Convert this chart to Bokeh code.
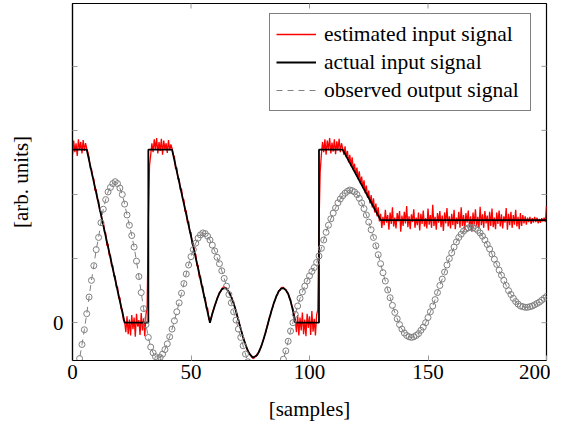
from bokeh.plotting import figure
from bokeh.models import Range1d, FixedTicker, Legend, LegendItem
from bokeh.embed import file_html
from bokeh.resources import INLINE

# ---------------- data ----------------
# estimated input signal, sampled every half sample from 0 to 200
est_input = [
    # 0 - 6.5
    2.62, 2.84, 2.66, 2.80, 2.60, 2.86, 2.70, 2.82, 2.64, 2.85, 2.68, 2.80, 2.72, 2.66,
    # 7 - 21.5
    2.58, 2.41, 2.40, 2.27, 2.24, 2.06, 2.08, 1.93, 1.90, 1.74, 1.74, 1.55, 1.58, 1.41, 1.40,
    1.20, 1.23, 1.05, 1.06, 0.88, 0.89, 0.72, 0.73, 0.55, 0.56, 0.38, 0.39, 0.22, 0.21, 0.04,
    # 22 - 33.5
    0.02, -0.15, 0.10, -0.18, 0.05, -0.20, 0.12, -0.10, 0.08, -0.22, 0.14, -0.06, 0.04, -0.19,
    0.15, -0.12, 0.07, -0.21, 0.13, 0.25, 1.60, 2.45, 2.62, 2.80,
    # 34 - 42.5
    2.66, 2.86, 2.70, 2.88, 2.64, 2.82, 2.68, 2.87, 2.62, 2.84, 2.70, 2.80, 2.65, 2.85, 2.69,
    2.78, 2.72, 2.62,
    # 43 - 57.5
    2.59, 2.40, 2.42, 2.24, 2.25, 2.07, 2.09, 1.91, 1.92, 1.73, 1.75, 1.56, 1.58, 1.40, 1.41,
    1.22, 1.24, 1.06, 1.07, 0.89, 0.90, 0.71, 0.73, 0.56, 0.57, 0.39, 0.40, 0.22, 0.23, 0.06,
    # 58 - 93.5
    0.03, 0.08, 0.15, 0.21, 0.27, 0.31, 0.38, 0.42, 0.47, 0.49,
    0.53, 0.55, 0.56, 0.54, 0.54, 0.50, 0.49, 0.44, 0.41, 0.35,
    0.31, 0.24, 0.19, 0.10, 0.05, -0.03, -0.09, -0.17, -0.22, -0.29,
    -0.33, -0.40, -0.43, -0.48, -0.50, -0.53, -0.55, -0.56, -0.52, -0.53,
    -0.48, -0.47, -0.41, -0.39, -0.32, -0.28, -0.20, -0.16, -0.07, -0.02,
    0.07, 0.11, 0.20, 0.24, 0.32, 0.35, 0.42, 0.44, 0.50, 0.50,
    0.54, 0.55, 0.55, 0.52, 0.52, 0.47, 0.46, 0.39, 0.36, 0.27,
    0.22, 0.12,
    # 94 - 103.5
    0.04, -0.15, 0.12, -0.20, 0.08, -0.12, 0.16, -0.18, 0.05, -0.21, 0.14, -0.08, 0.10, -0.19,
    0.18, -0.14, 0.06, -0.20, 0.12, 0.20,
    # 104 - 105.5
    1.50, 2.35, 2.62, 2.82,
    # 106 - 114.5
    2.66, 2.86, 2.62, 2.84, 2.70, 2.88, 2.64, 2.81, 2.67, 2.86, 2.63, 2.83, 2.69, 2.87, 2.66,
    2.80, 2.72, 2.62,
    # 115 - 129.5
    2.75, 2.58, 2.68, 2.50, 2.62, 2.44, 2.58, 2.38, 2.48, 2.31, 2.42, 2.24, 2.36, 2.17, 2.28,
    2.10, 2.22, 2.02, 2.14, 1.95, 2.06, 1.86, 1.99, 1.80, 1.94, 1.72, 1.86, 1.66, 1.80, 1.58,
    # 130 - 199.5
    1.70, 1.48, 1.65, 1.52, 1.76, 1.56, 1.68, 1.45, 1.72, 1.54,
    1.80, 1.50, 1.64, 1.47, 1.71, 1.58, 1.74, 1.42, 1.67, 1.51,
    1.73, 1.55, 1.82, 1.49, 1.66, 1.46, 1.69, 1.57, 1.77, 1.48,
    1.64, 1.52, 1.72, 1.44, 1.70, 1.54, 1.75, 1.50, 1.63, 1.47,
    1.78, 1.53, 1.68, 1.48, 1.84, 1.51, 1.65, 1.45, 1.71, 1.56,
    1.74, 1.49, 1.67, 1.43, 1.72, 1.55, 1.79, 1.50, 1.66, 1.47,
    1.70, 1.52, 1.76, 1.46, 1.64, 1.54, 1.73, 1.48, 1.80, 1.51,
    1.68, 1.45, 1.71, 1.56, 1.75, 1.49, 1.66, 1.42, 1.72, 1.53,
    1.77, 1.50, 1.65, 1.47, 1.81, 1.52, 1.69, 1.48, 1.74, 1.55,
    1.67, 1.44, 1.73, 1.51, 1.78, 1.49, 1.64, 1.46, 1.72, 1.54,
    1.75, 1.50, 1.69, 1.47, 1.66, 1.56, 1.79, 1.45, 1.70, 1.52,
    1.73, 1.48, 1.68, 1.53, 1.76, 1.50, 1.65, 1.46, 1.71, 1.51,
    1.68, 1.55, 1.66, 1.53, 1.64, 1.57, 1.65, 1.54, 1.63, 1.56,
    1.65, 1.57, 1.64, 1.55, 1.62, 1.56, 1.63, 1.58, 1.64, 1.57,
    # 200
    1.82,
]
est_samples = [i * 0.5 for i in range(len(est_input))]

# actual input signal (break points and the oscillating part)
act_samples = [0, 6, 22, 32, 32, 42,
               58, 59, 60, 61, 62, 63, 64, 65, 66, 67, 68, 69, 70, 71, 72, 73, 74, 75, 76,
               77, 78, 79, 80, 81, 82, 83, 84, 85, 86, 87, 88, 89, 90, 91, 92, 93, 94,
               104, 104, 114, 130, 200]
act_input = [2.7, 2.7, 0.0, 0.0, 2.7, 2.7,
             0.00, 0.14, 0.26, 0.37, 0.46, 0.52, 0.54, 0.53, 0.48, 0.40,
             0.30, 0.18, 0.04, -0.10, -0.23, -0.34, -0.44, -0.50, -0.54, -0.53,
             -0.50, -0.43, -0.33, -0.21, -0.08, 0.06, 0.19, 0.31, 0.41, 0.49,
             0.53, 0.54, 0.51, 0.45, 0.34, 0.19, 0.00,
             0.0, 2.7, 2.7, 1.6, 1.6]

# observed output signal, one value per sample 0..200
obs_output = [
    -1.20, -0.98, -0.77, -0.56, -0.34, -0.11, 0.14, 0.40, 0.66, 0.89,
    1.14, 1.33, 1.56, 1.77, 1.92, 2.04, 2.11, 2.17, 2.20, 2.17,
    2.10, 2.00, 1.85, 1.68, 1.52, 1.36, 1.18, 0.96, 0.72, 0.47,
    0.22, -0.03, -0.23, -0.38, -0.47, -0.53, -0.56, -0.54, -0.49, -0.42,
    -0.33, -0.22, -0.10, 0.03, 0.17, 0.31, 0.46, 0.61, 0.76, 0.90,
    1.03, 1.14, 1.24, 1.32, 1.37, 1.40, 1.39, 1.35, 1.29, 1.21,
    1.12, 1.02, 0.92, 0.81, 0.69, 0.57, 0.44, 0.31, 0.17, 0.04,
    -0.10, -0.23, -0.36, -0.49, -0.61, -0.74, -0.86, -0.97, -1.06, -1.13,
    -1.17, -1.18, -1.16, -1.12, -1.06, -0.98, -0.89, -0.79, -0.69, -0.57,
    -0.44, -0.29, -0.13, 0.00, 0.13, 0.26, 0.38, 0.48, 0.57, 0.65,
    0.73, 0.80, 0.86, 0.94, 1.04, 1.16, 1.29, 1.41, 1.52, 1.62,
    1.71, 1.79, 1.87, 1.93, 1.98, 2.02, 2.05, 2.07, 2.06, 2.04,
    2.00, 1.94, 1.87, 1.78, 1.68, 1.57, 1.45, 1.33, 1.20, 1.06,
    0.92, 0.78, 0.65, 0.51, 0.39, 0.27, 0.16, 0.06, -0.03, -0.10,
    -0.16, -0.20, -0.22, -0.23, -0.22, -0.20, -0.17, -0.12, -0.07, 0.00,
    0.08, 0.17, 0.26, 0.36, 0.47, 0.58, 0.68, 0.79, 0.90, 1.00,
    1.09, 1.18, 1.26, 1.33, 1.38, 1.43, 1.46, 1.48, 1.49, 1.48,
    1.47, 1.44, 1.40, 1.35, 1.29, 1.22, 1.15, 1.07, 0.99, 0.91,
    0.82, 0.74, 0.66, 0.58, 0.50, 0.44, 0.38, 0.33, 0.29, 0.26,
    0.25, 0.24, 0.24, 0.25, 0.26, 0.28, 0.30, 0.32, 0.35, 0.38,
    0.41,
]
obs_samples = list(range(len(obs_output)))

x_ticks = [0, 50, 100, 150, 200]
y_ticks = [0, 1, 2, 3, 4]
y_tick_labels = {0: "0", 1: "", 2: "", 3: "", 4: ""}
X_MIN, X_MAX = 0, 200
Y_MIN, Y_MAX = -0.59, 4.98

FONT = "Liberation Serif"
FS = "21px"
TICK_COL = "#9a9a9a"

# ---------------- figure ----------------
p = figure(frame_width=474, frame_height=357,
           x_range=Range1d(X_MIN, X_MAX), y_range=Range1d(Y_MIN, Y_MAX),
           output_backend="svg", toolbar_location=None,
           min_border_left=72, min_border_right=4, min_border_top=3, min_border_bottom=64,
           background_fill_color="white", border_fill_color="white")
p.xgrid.visible = False
p.ygrid.visible = False
p.outline_line_color = "black"
p.outline_line_width = 1.2

for ax in (p.xaxis[0], p.yaxis[0]):
    ax.major_tick_in = 5
    ax.major_tick_out = 0
    ax.minor_tick_line_color = None
    ax.major_tick_line_color = TICK_COL
    ax.axis_line_color = "black"
    ax.axis_line_width = 1.2
    ax.major_label_text_font = FONT
    ax.major_label_text_font_size = FS
    ax.major_label_text_color = "black"
    ax.axis_label_text_font = FONT
    ax.axis_label_text_font_size = FS
    ax.axis_label_text_font_style = "normal"
    ax.axis_label_text_color = "black"

p.xaxis.ticker = FixedTicker(ticks=x_ticks)
p.xaxis.axis_label = "[samples]"
p.xaxis.major_label_standoff = 4
p.xaxis.axis_label_standoff = 15

p.yaxis.ticker = FixedTicker(ticks=y_ticks)
p.yaxis.major_label_overrides = y_tick_labels
p.yaxis.axis_label = "[arb. units]"
p.yaxis.major_label_standoff = 9
p.yaxis.axis_label_standoff = 17

# mirrored inner ticks on the top and right edges (half of each dash is clipped by the frame)
top_tick_x = [t for t in x_ticks if X_MIN < t < X_MAX]
p.scatter(top_tick_x, [Y_MAX] * len(top_tick_x), marker="dash", size=10,
          angle=1.5708, line_color=TICK_COL, line_width=1)
p.scatter([X_MAX] * len(y_ticks), y_ticks, marker="dash", size=10,
          line_color=TICK_COL, line_width=1)

r_est = p.line(est_samples, est_input, line_color="#ff0000", line_width=1.3)
r_act = p.line(act_samples, act_input, line_color="black", line_width=1.8)
r_obs = p.line(obs_samples, obs_output, line_color="#808080", line_width=1, line_dash="6 5")
p.scatter(obs_samples, obs_output, marker="circle", size=6, line_color="#808080",
          fill_color=None, line_width=1)

legend = Legend(items=[LegendItem(label="estimated input signal", renderers=[r_est]),
                       LegendItem(label="actual input signal", renderers=[r_act]),
                       LegendItem(label="observed output signal", renderers=[r_obs])],
                location=(197, 249))
legend.label_text_font = FONT
legend.label_text_font_size = "21.5px"
legend.label_text_color = "black"
legend.label_standoff = 8
legend.label_width = 200
legend.glyph_width = 40
legend.glyph_height = 28
legend.label_height = 28
legend.spacing = 0
legend.padding = 6
legend.margin = 0
legend.border_line_color = "black"
legend.border_line_width = 1
legend.background_fill_alpha = 1
p.add_layout(legend)

open("out.html", "w").write(file_html(p, INLINE))
